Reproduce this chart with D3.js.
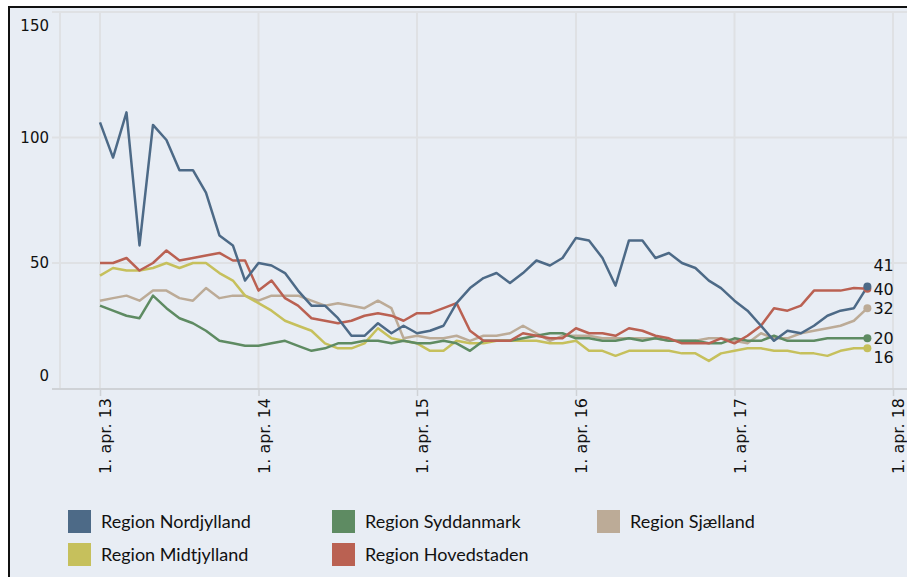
<!DOCTYPE html>
<html>
<head>
<meta charset="utf-8">
<script src="https://cdn.jsdelivr.net/npm/d3@7"></script>
<style>
  body { margin: 0; background: #fff; }
  svg { display: block; }
</style>
</head>
<body>
<svg id="chart" width="907" height="577"></svg>
<script>
// Data (monthly, apr. 2013 - feb. 2018)
var regions = ["Region Nordjylland", "Region Syddanmark", "Region Sjælland", "Region Midtjylland", "Region Hovedstaden"];

var nordjylland = [106, 92, 110, 57, 105, 99, 87, 87, 78, 61, 57, 43, 50, 49, 46, 39, 33, 33, 28, 21,
    21, 26, 22, 25, 22, 23, 25, 34, 40, 44, 46, 42, 46, 51, 49, 52, 60, 59, 52, 41,
    59, 59, 52, 54, 50, 48, 43, 40, 35, 31, 25, 19, 23, 22, 25, 29, 31, 32, 40.6];
var syddanmark = [33, 31, 29, 28, 37, 32, 28, 26, 23, 19, 18, 17, 17, 18, 19, 17, 15, 16, 18, 18,
    19, 19, 18, 19, 18, 18, 19, 18, 15, 19, 19, 19, 20, 21, 22, 22, 20, 20, 19, 19,
    20, 19, 20, 19, 19, 19, 18, 18, 20, 19, 19, 21, 19, 19, 19, 20, 20, 20, 20];
var sjaelland = [35, 36, 37, 35, 39, 39, 36, 35, 40, 36, 37, 37, 35, 37, 37, 37, 35, 33, 34, 33,
    32, 35, 32, 20, 21, 20, 20, 21, 19, 21, 21, 22, 25, 22, 19, 21, 21, 21, 20, 20,
    20, 20, 20, 19, 19, 19, 20, 20, 19, 18, 22, 20, 20, 22, 23, 24, 25, 27, 32];
var midtjylland = [45, 48, 47, 47, 48, 50, 48, 50, 50, 46, 43, 37, 34, 31, 27, 25, 23, 18, 16, 16,
    18, 24, 20, 19, 18, 15, 15, 19, 18, 18, 19, 19, 19, 19, 18, 18, 19, 15, 15, 13,
    15, 15, 15, 15, 14, 14, 11, 14, 15, 16, 16, 15, 15, 14, 14, 13, 15, 16, 16];
var hovedstaden = [50, 50, 52, 47, 50, 55, 51, 52, 53, 54, 51, 51, 39, 43, 36, 33, 28, 27, 26, 27,
    29, 30, 29, 27, 30, 30, 32, 34, 23, 19, 19, 19, 22, 21, 20, 20, 24, 22, 22, 21,
    24, 23, 21, 20, 18, 18, 18, 20, 18, 21, 25, 32, 31, 33, 39, 39, 39, 40, 39.7];

var endLabels = ["41", "20", "32", "16", "40"];
var yTicks = [0, 50, 100, 150];
var xTickLabels = ["1. apr. 13", "1. apr. 14", "1. apr. 15", "1. apr. 16", "1. apr. 17", "1. apr. 18"];

var months = d3.timeMonth.range(new Date(2013, 3, 1), new Date(2018, 2, 1));
var xTickDates = d3.timeYear.range(new Date(2013, 0, 1), new Date(2019, 0, 1)).map(function (d) { return new Date(d.getFullYear(), 3, 1); });

var colors = ["#4d6a87", "#5e8b62", "#bcab97", "#c6c05c", "#ba6152"];
var labelNudge = [-21, 0, 0, 9, 0];

var series = regions.map(function (name, i) {
    return { name: name, values: [nordjylland, syddanmark, sjaelland, midtjylland, hovedstaden][i], color: colors[i], label: endLabels[i], nudge: labelNudge[i] };
});

var svg = d3.select("#chart");

// panel background + frame
svg.append("rect").attr("x", 9).attr("y", 7).attr("width", 920).attr("height", 600)
    .attr("fill", "#e8edf4").attr("stroke", "#111").attr("stroke-width", 2);

var x = d3.scaleTime()
    .domain([new Date(2013, 3, 1), new Date(2018, 3, 1)])
    .range([100, 893]);
var y = d3.scaleLinear()
    .domain([0, 150])
    .range([388.5, 12]);

// gridlines
svg.append("g").selectAll("line")
    .data(yTicks.filter(function (d) { return d > 0; }))
    .enter().append("line")
    .attr("x1", 52).attr("x2", 907)
    .attr("y1", function (d) { return y(d); }).attr("y2", function (d) { return y(d); })
    .attr("stroke", "#dfe1e4").attr("stroke-width", 2);

svg.append("line").attr("x1", 60).attr("x2", 60).attr("y1", 12).attr("y2", 388)
    .attr("stroke", "#dfe1e4").attr("stroke-width", 2);

svg.append("g").selectAll("line")
    .data(xTickDates)
    .enter().append("line")
    .attr("x1", function (d) { return x(d); }).attr("x2", function (d) { return x(d); })
    .attr("y1", 12).attr("y2", 388)
    .attr("stroke", "#dfe1e4").attr("stroke-width", 2);

// x axis
var xAxis = svg.append("g")
    .attr("transform", "translate(0,389)")
    .call(d3.axisBottom(x).tickValues(xTickDates).tickSize(7).tickSizeOuter(0)
        .tickFormat(function (d, i) { return xTickLabels[i]; }));
xAxis.select(".domain").attr("d", "M52,0H907").attr("stroke", "#cfd2d6").attr("stroke-width", 2);
xAxis.selectAll(".tick line").attr("stroke", "#cfd2d6").attr("stroke-width", 1.5);
xAxis.selectAll(".tick text")
    .attr("font-family", "DejaVu Sans").attr("font-size", 16).attr("fill", "#111")
    .attr("text-anchor", "end")
    .attr("transform", "translate(5,9) rotate(-90)")
    .attr("x", 0).attr("y", 0).attr("dy", "0.36em");

// y labels (outer ones pulled inside, as in the source)
svg.append("g").selectAll("text")
    .data(yTicks)
    .enter().append("text")
    .attr("x", 49)
    .attr("y", function (d) { return y(d) + (d === 0 ? -13 : d === 150 ? 14 : 0); })
    .attr("dy", "0.36em")
    .attr("text-anchor", "end")
    .attr("font-family", "DejaVu Sans").attr("font-size", 15).attr("fill", "#111")
    .text(function (d) { return d; });

// lines
var line = d3.line()
    .x(function (d, i) { return x(months[i]); })
    .y(function (d) { return y(d); });

var lineOrder = [2, 3, 1, 4, 0];
svg.append("g").selectAll("path")
    .data(lineOrder.map(function (i) { return series[i]; }))
    .enter().append("path")
    .attr("d", function (d) { return line(d.values); })
    .attr("fill", "none")
    .attr("stroke", function (d) { return d.color; })
    .attr("stroke-width", 2.5)
    .attr("stroke-linejoin", "round");

// end dots + labels
var last = months.length - 1;
svg.append("g").selectAll("circle")
    .data(lineOrder.map(function (i) { return series[i]; }))
    .enter().append("circle")
    .attr("cx", x(months[last]))
    .attr("cy", function (d) { return y(d.values[last]); })
    .attr("r", 4)
    .attr("fill", function (d) { return d.color; });

svg.append("g").selectAll("text")
    .data(series)
    .enter().append("text")
    .attr("x", x(months[last]) + 6)
    .attr("y", function (d) { return y(d.values[last]) + d.nudge; })
    .attr("dy", "0.36em")
    .attr("font-family", "DejaVu Sans").attr("font-size", 16).attr("fill", "#111")
    .text(function (d) { return d.label; });

// legend
var legendPos = [[68, 510], [332, 510], [597, 510], [68, 543], [332, 543]];
var legend = svg.append("g").selectAll("g")
    .data(series)
    .enter().append("g")
    .attr("transform", function (d, i) { return "translate(" + legendPos[i][0] + "," + legendPos[i][1] + ")"; });
legend.append("rect").attr("width", 23).attr("height", 23)
    .attr("fill", function (d) { return d.color; });
legend.append("text")
    .attr("x", 33).attr("y", 12).attr("dy", "0.35em")
    .attr("font-family", "Lato").attr("font-size", 18).attr("fill", "#111")
    .text(function (d) { return d.name; });
</script>
</body>
</html>
